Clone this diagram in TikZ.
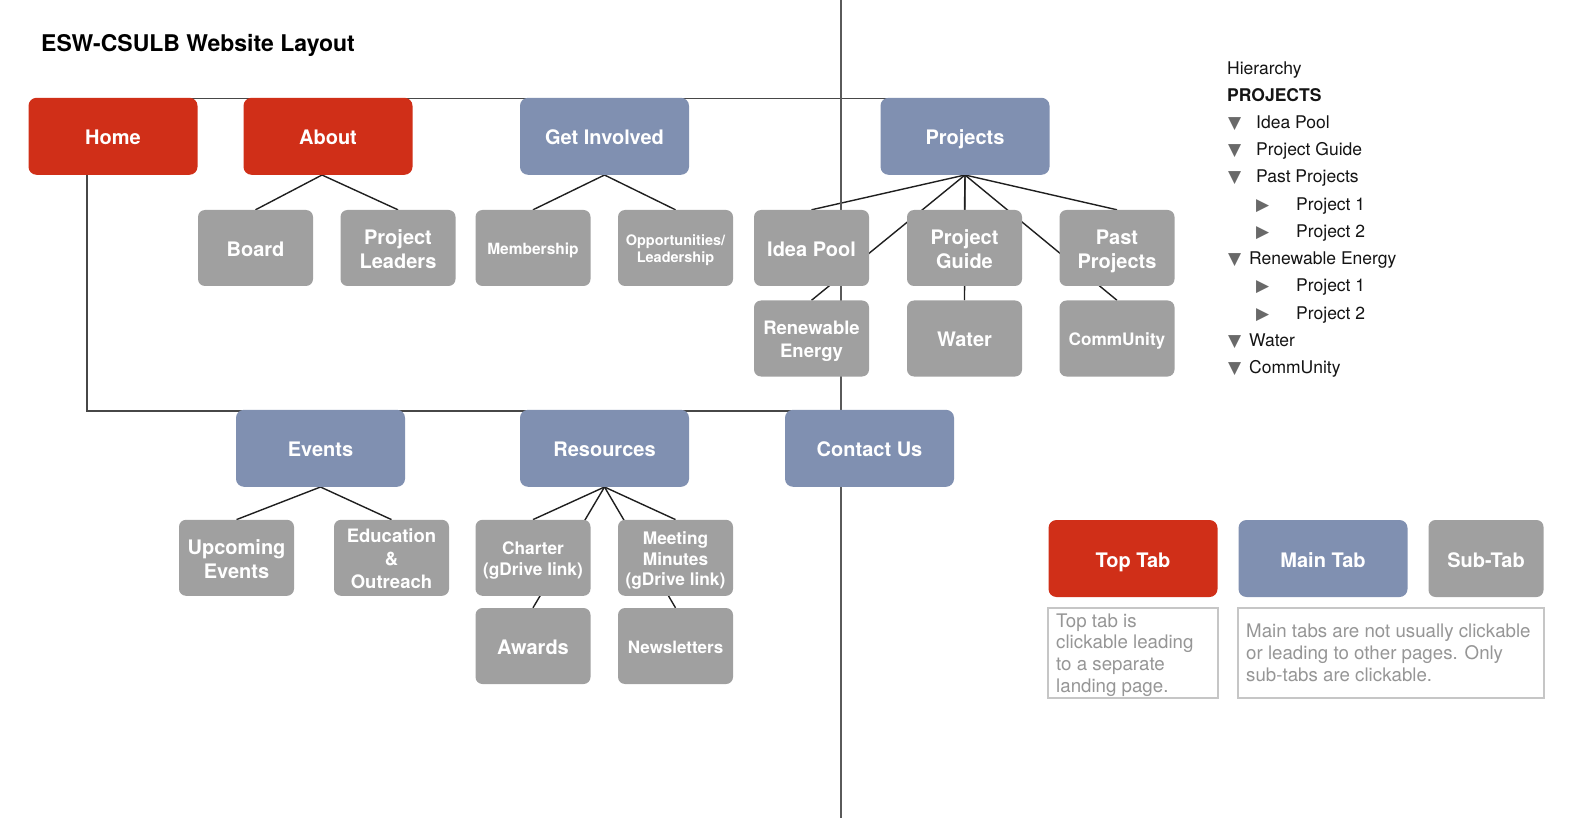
\documentclass[tikz,border=0pt]{standalone}
\usepackage{fontspec}
\setmainfont{TeX Gyre Heros}
\newfontfamily\symfont{DejaVu Sans}
\usetikzlibrary{backgrounds}
\definecolor{topred}{RGB}{208,47,24}
\definecolor{mainblue}{RGB}{128,144,177}
\definecolor{subgray}{RGB}{160,160,160}
\definecolor{desctext}{RGB}{150,150,150}
\definecolor{descborder}{RGB}{198,198,198}
\definecolor{dividergray}{RGB}{90,90,90}
\definecolor{trigray}{RGB}{105,105,105}
\newcommand\lblTop{\rule{0pt}{1.15em}}
\newcommand\lblBot{\rule[-0.3em]{0pt}{0pt}}
\tikzset{
  tab/.style={rounded corners=8pt, inner sep=0pt, text=white, align=center, font=\fontsize{20}{24.4}\selectfont\bfseries},
  toptab/.style={tab, fill=topred, minimum width=169pt, minimum height=77pt},
  maintab/.style={tab, fill=mainblue, minimum width=169pt, minimum height=77pt},
  subtab/.style={tab, fill=subgray, minimum width=115pt, minimum height=76pt, rounded corners=7pt},
  link/.style={line width=1.4pt, draw=black!88},
  rail/.style={line width=1.6pt, draw=black!72},
  hier/.style={anchor=base west, inner sep=0pt, text=black!92, font=\fontsize{17.5}{20}\selectfont},
  hiertri/.style={anchor=base west, inner sep=0pt, text=trigray, font=\symfont\fontsize{17}{20}\selectfont},
  desc/.style={anchor=base west, inner sep=0pt, text=desctext, font=\fontsize{18.7}{22}\selectfont},
  descbox/.style={draw=descborder, line width=2pt, inner sep=0pt},
  dividerline/.style={draw=dividergray, line width=1.2pt},
}
\begin{document}
\begin{tikzpicture}[x=1pt,y=-1pt]
\useasboundingbox (0,0) rectangle (1596,818);

% divider
\draw[dividerline] (841,0) -- (841,818);

% title
\node[anchor=base west, inner sep=0pt, font=\fontsize{23}{27}\selectfont\bfseries] (title) at (41,52) {ESW-CSULB Website Layout};

% top row
\node[toptab] (home) at (113,136.3) {\lblTop Home\lblBot};
\node[toptab] (about) at (328,136.3) {\lblTop About\lblBot};
\node[maintab] (getinv) at (604.5,136.3) {\lblTop Get Involved\lblBot};
\node[maintab] (projects) at (965,136.3) {\lblTop Projects\lblBot};

% row 1
\node[subtab] (board) at (255.5,248) {\lblTop Board\lblBot};
\node[subtab] (leaders) at (398,248) {\lblTop Project\\Leaders\lblBot};
\node[subtab, font=\fontsize{15.5}{18}\selectfont\bfseries] (member) at (533,248) {\lblTop Membership\lblBot};
\node[subtab, font=\fontsize{14.5}{17.3}\selectfont\bfseries] (opp) at (675.5,248) {\lblTop Opportunities/\\Leadership\lblBot};
\node[subtab] (idea) at (811.5,248) {\lblTop Idea Pool\lblBot};
\node[subtab] (guide) at (964.5,248) {\lblTop Project\\Guide\lblBot};
\node[subtab] (past) at (1117,248) {\lblTop Past\\Projects\lblBot};

% row 2
\node[subtab, font=\fontsize{18.5}{23}\selectfont\bfseries] (renew) at (811.5,338.5) {\lblTop Renewable\\Energy\lblBot};
\node[subtab] (water) at (964.5,338.5) {\lblTop Water\lblBot};
\node[subtab, font=\fontsize{17.2}{20}\selectfont\bfseries] (commu) at (1117,338.5) {\lblTop CommUnity\lblBot};

% bottom row
\node[maintab] (events) at (320.5,448.3) {\lblTop Events\lblBot};
\node[maintab] (resources) at (604.5,448.3) {\lblTop Resources\lblBot};
\node[maintab] (contact) at (869.5,448.3) {\lblTop Contact Us\lblBot};

% row 3
\node[subtab, font=\fontsize{20}{23.4}\selectfont\bfseries] (upcoming) at (236.5,557.8) {\lblTop Upcoming\\Events\lblBot};
\node[subtab, font=\fontsize{18.5}{23}\selectfont\bfseries] (educ) at (391.5,557.8) {\lblTop Education\\\&\\Outreach\lblBot};
\node[subtab, font=\fontsize{17.3}{20.4}\selectfont\bfseries] (charter) at (533,557.8) {\lblTop Charter\\(gDrive link)\lblBot};
\node[subtab, font=\fontsize{17.3}{20.4}\selectfont\bfseries] (minutes) at (675.5,557.8) {\lblTop Meeting\\Minutes\\(gDrive link)\lblBot};

% row 4
\node[subtab] (awards) at (533,646) {\lblTop Awards\lblBot};
\node[subtab, font=\fontsize{17}{20}\selectfont\bfseries] (news) at (675.5,646) {\lblTop Newsletters\lblBot};

% legend
\node[toptab] (legtop) at (1133,558.5) {\lblTop Top Tab\lblBot};
\node[maintab] (legmain) at (1323,558.5) {\lblTop Main Tab\lblBot};
\node[subtab, minimum height=77pt] (legsub) at (1486,558.5) {\lblTop Sub-Tab\lblBot};
\node[descbox, minimum width=170pt, minimum height=90pt] (desc1) at (1133,653) {};
\node[descbox, minimum width=306pt, minimum height=90pt] (desc2) at (1391,653) {};
\node[desc] (d1a) at (1056,627) {Top tab is};
\node[desc] (d1b) at (1056,648.7) {clickable leading};
\node[desc] (d1c) at (1056,670.4) {to a separate};
\node[desc] (d1d) at (1056,692) {landing page.};
\node[desc] (d2a) at (1246,637) {Main tabs are not usually clickable};
\node[desc] (d2b) at (1246,659) {or leading to other pages. Only};
\node[desc] (d2c) at (1246,681) {sub-tabs are clickable.};

% hierarchy list
\node[hier] (h0) at (1227,75) {Hierarchy};
\node[hier, font=\fontsize{17.5}{20}\selectfont\bfseries] (h1) at (1227,101.5) {PROJECTS};
\node[hiertri] (t2) at (1228,128.5) {▼};   \node[hier] (h2) at (1256,128.5) {Idea Pool};
\node[hiertri] (t3) at (1228,155.8) {▼}; \node[hier] (h3) at (1256,155.8) {Project Guide};
\node[hiertri] (t4) at (1228,183) {▼};   \node[hier] (h4) at (1256,183) {Past Projects};
\node[hiertri] (t5) at (1256,210.3) {▶}; \node[hier] (h5) at (1296,210.3) {Project 1};
\node[hiertri] (t6) at (1256,237.5) {▶}; \node[hier] (h6) at (1296,237.5) {Project 2};
\node[hiertri] (t7) at (1228,264.7) {▼}; \node[hier] (h7) at (1249,264.7) {Renewable Energy};
\node[hiertri] (t8) at (1256,291.9) {▶}; \node[hier] (h8) at (1296,291.9) {Project 1};
\node[hiertri] (t9) at (1256,319.1) {▶}; \node[hier] (h9) at (1296,319.1) {Project 2};
\node[hiertri] (t10) at (1228,346.3) {▼}; \node[hier] (h10) at (1249,346.3) {Water};
\node[hiertri] (t11) at (1228,373.5) {▼};  \node[hier] (h11) at (1249,373.5) {CommUnity};

% connectors behind boxes
\begin{pgfonlayer}{background}
\fill[white] (0,0) rectangle (1596,818);
\draw[rail] ([yshift=-0.9pt]home.north) -- ([yshift=-0.9pt]projects.north);
\draw[rail] ([xshift=-26pt]home.south) |- ([yshift=-1.5pt]contact.north);
\draw[link] ([xshift=-6pt]about.south) -- (board.north);
\draw[link] ([xshift=-6pt]about.south) -- (leaders.north);
\draw[link] (getinv.south) -- (member.north);
\draw[link] (getinv.south) -- (opp.north);
\foreach \t in {idea,guide,past,renew,water,commu}
  \draw[link] (projects.south) -- (\t.north);
\draw[link] (events.south) -- (upcoming.north);
\draw[link] (events.south) -- (educ.north);
\foreach \t in {charter,awards,minutes,news}
  \draw[link] (resources.south) -- (\t.north);
\end{pgfonlayer}
\end{tikzpicture}
\end{document}
